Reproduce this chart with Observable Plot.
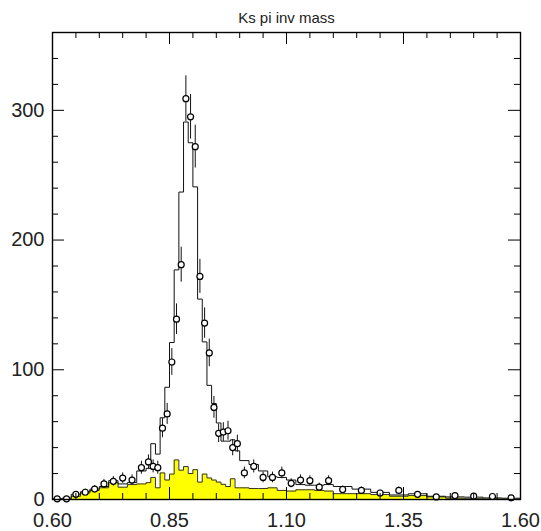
<!DOCTYPE html>
<html>
<head>
<meta charset="utf-8">
<script src="https://cdn.jsdelivr.net/npm/d3@7"></script>
<script src="https://cdn.jsdelivr.net/npm/@observablehq/plot@0.6"></script>
<style>
  body { margin: 0; background: #fff; }
  #chart svg { display: block; }
</style>
</head>
<body>
<div id="chart"></div>
<script>
const title = "Ks pi inv mass";

// bin edges (variable width)
const binEdges = [
  0.60,0.62,0.64,0.66,0.68,0.70,0.72,0.74,0.76,0.78,
  0.80,0.81,0.82,0.83,0.84,0.85,0.86,0.87,0.88,0.89,
  0.90,0.91,0.92,0.93,0.94,0.95,0.96,0.97,0.98,0.99,
  1.00,1.02,1.04,1.06,1.08,1.10,1.12,1.14,1.16,1.18,
  1.20,1.24,1.28,1.32,1.36,1.40,1.44,1.48,1.52,1.56,1.60
];

// data points (open circles)
const dataCounts = [
  0.5,0.5,4,5.6,8,12,14,16.5,15,24.5,
  29,25.5,24.5,55,66,106,139,181,309,295,
  272,172,136,113,71,51,52,53,40,43,
  20.5,25.5,17,17,20.5,12.5,15,14.5,9.5,14.5,
  7.7,7,5,7,4,2,3,2.6,2.3,1.3
];
// error bar half-lengths
const dataErrors = [
  0.7,0.7,2,2.4,2.8,3.5,3.7,4,3.9,5,
  5.4,5,5,7.4,8.1,10.3,11.8,13.5,17.6,17.2,
  16.5,13.1,11.7,10.6,8.4,7.1,7.2,7.3,6.3,6.6,
  4.5,5,4.1,4.1,4.5,3.5,3.9,3.8,3.1,3.8,
  2.8,2.6,2.2,2.6,2,1.4,1.7,1.6,1.5,1.1
];
// total (black step line)
const totalCounts = [
  0.5,1,4,6,8,10,14.5,12,13,22,
  24,43,35,63,86.5,121,177,237,291,275,
  241,154.5,121.5,88,74,59,45,45,46,37.5,
  30,27,22,17.5,17,15,11.5,11,11,11.5,
  10,8,5.5,3.5,4.4,2.5,2,1.8,1.2,1
];
// background (yellow filled histogram)
const bgCounts = [
  0,0.3,2.5,5,7,9,13,9.5,11.5,12,
  13,17,9,20.5,15,19.6,30.5,22.6,25.4,20,
  23,13.4,19.6,16.6,15,13.4,11.7,10,16,9,
  9,8.5,8.5,9,7,6.5,7.5,7.5,7,6.5,
  4.5,4.5,3.8,2.5,3,2,1,0.6,0.4,0.2
];

const xMajorTicks = [0.60,0.85,1.10,1.35,1.60];
const xMinorTicks = [0.65,0.70,0.75,0.80,0.90,0.95,1.00,1.05,1.15,1.20,1.25,1.30,1.40,1.45,1.50,1.55];
const yMajorTicks = [0,100,200,300];
const yMinorTicks = [20,40,60,80,120,140,160,180,220,240,260,280,320,340];

const bins = dataCounts.map((v, i) => ({
  x1: binEdges[i], x2: binEdges[i + 1],
  xc: (binEdges[i] + binEdges[i + 1]) / 2,
  data: v, err: dataErrors[i], total: totalCounts[i], bg: bgCounts[i]
}));
const steps = key => bins.flatMap(b => [{x: b.x1, y: b[key]}, {x: b.x2, y: b[key]}]);

const W = 541, H = 531;
const mL = 52, mR = 21, mT = 32, mB = 32;
const innerH = H - mT - mB, innerW = W - mL - mR;
const majorLen = 12, minorLen = 6;

const chart = Plot.plot({
  width: W, height: H,
  marginLeft: mL, marginRight: mR, marginTop: mT, marginBottom: mB,
  style: {fontFamily: "Liberation Sans, Arial, sans-serif", background: "#fff", color: "#000"},
  x: {domain: [0.6, 1.6]},
  y: {domain: [0, 360]},
  marks: [
    Plot.areaY(steps("bg"), {x: "x", y1: 0, y2: "y", fill: "#ffff00", curve: "linear"}),
    Plot.line(steps("bg"), {x: "x", y: "y", stroke: "#333", strokeWidth: 1}),
    Plot.line(steps("total"), {x: "x", y: "y", stroke: "#111", strokeWidth: 1}),
    Plot.ruleX(bins, {x: "xc", y1: d => d.data - d.err, y2: d => d.data + d.err, stroke: "#111", strokeWidth: 1}),
    Plot.dot(bins, {x: "xc", y: "data", r: 3, fill: "#fff", stroke: "#000", strokeWidth: 1.2}),
    // ticks on all four sides, pointing inward
    Plot.tickX(xMajorTicks, {x: d => d, insetTop: innerH - majorLen, stroke: "#000"}),
    Plot.tickX(xMajorTicks, {x: d => d, insetBottom: innerH - majorLen, stroke: "#000"}),
    Plot.tickX(xMinorTicks, {x: d => d, insetTop: innerH - minorLen, stroke: "#000"}),
    Plot.tickX(xMinorTicks, {x: d => d, insetBottom: innerH - minorLen, stroke: "#000"}),
    Plot.tickY(yMajorTicks, {y: d => d, insetRight: innerW - majorLen, stroke: "#000"}),
    Plot.tickY(yMajorTicks, {y: d => d, insetLeft: innerW - majorLen, stroke: "#000"}),
    Plot.tickY(yMinorTicks, {y: d => d, insetRight: innerW - minorLen, stroke: "#000"}),
    Plot.tickY(yMinorTicks, {y: d => d, insetLeft: innerW - minorLen, stroke: "#000"}),
    Plot.axisX(xMajorTicks, {tickSize: 0, tickPadding: 13, fontSize: 20, tickFormat: d => d.toFixed(2), fill: "#222"}),
    Plot.axisY(yMajorTicks, {tickSize: 0, tickPadding: 8, fontSize: 20, tickFormat: d => String(d), fill: "#222"}),
    Plot.frame({stroke: "#000", strokeWidth: 1.4}),
    Plot.text([title], {frameAnchor: "top", dy: -20, fontSize: 15, fill: "#222", text: d => d})
  ]
});
document.getElementById("chart").appendChild(chart);
</script>
</body>
</html>
